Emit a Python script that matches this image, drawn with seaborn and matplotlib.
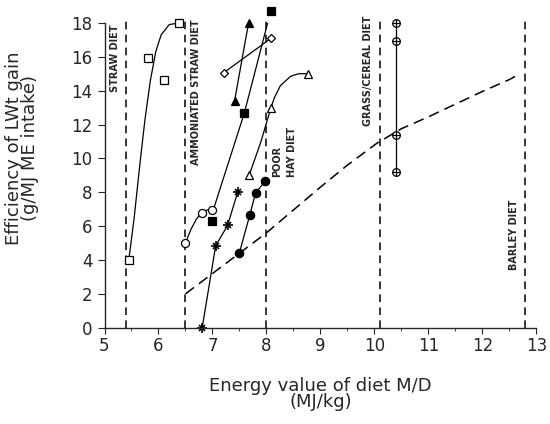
import numpy as np
import pandas as pd
from matplotlib import pyplot as plt
from matplotlib.ticker import MultipleLocator
import seaborn as sns

# values
straw_x = [5.45, 5.80, 6.11, 6.38]
straw_y = [4.0, 15.9, 14.6, 18.0]
straw_fit_x = [5.45, 5.55, 5.65, 5.75, 5.85, 5.95, 6.05, 6.2, 6.38]
straw_fit_y = [4.0, 6.5, 9.5, 12.3, 14.6, 16.3, 17.3, 17.9, 18.0]

ocirc_x = [6.5, 6.8, 7.0]
ocirc_y = [5.0, 6.8, 6.95]
ocirc_fit_x = [6.5, 6.6, 6.7, 6.8, 6.9, 7.0]
ocirc_fit_y = [5.0, 5.8, 6.4, 6.8, 6.95, 6.95]

fsq_x = [7.0, 7.59, 8.08]
fsq_y = [6.3, 12.67, 18.7]
fsq_line_x = [7.02, 7.59, 8.08]
fsq_line_y = [7.0, 12.67, 18.7]

ftri_x = [7.41, 7.67]
ftri_y = [13.4, 18.0]

odia_x = [7.21, 8.09]
odia_y = [15.06, 17.1]

star_x = [6.81, 7.06, 7.28, 7.47]
star_y = [0.0, 4.84, 6.04, 8.03]

fcirc_x = [7.50, 7.69, 7.80, 7.98]
fcirc_y = [4.43, 6.63, 7.97, 8.66]

otri_x = [7.68, 8.08, 8.77]
otri_y = [9.0, 12.95, 15.0]
otri_fit_x = [7.68, 7.9, 8.08, 8.15, 8.26, 8.45, 8.6, 8.77]
otri_fit_y = [9.0, 11.0, 12.95, 13.6, 14.3, 14.85, 15.0, 15.0]

grass_x = [10.4, 10.4, 10.4, 10.4]
grass_y = [18.0, 16.94, 11.4, 9.2]

pot_x = [6.5, 7.0, 7.5, 8.0, 8.5, 9.0, 9.5, 10.05, 10.5, 11.0, 11.5, 12.0, 12.5, 12.7]
pot_y = [2.0, 3.2, 4.4, 5.6, 6.95, 8.3, 9.6, 10.9, 11.75, 12.45, 13.2, 13.95, 14.65, 15.0]

diet_bounds = [5.4, 6.5, 8.0, 10.1, 12.8]

sns.set_style('ticks')
plt.rcParams['font.family'] = ['DejaVu Sans']

fig = plt.figure(figsize=(5.5, 4.24), dpi=100)
ax = fig.add_axes([0.19, 0.227, 0.785, 0.719])

# diet boundaries
for xb in diet_bounds:
    ax.plot([xb, xb], [0, 18.25], color='black', lw=1.1, ls=(0, (5, 3.5)), clip_on=False)

# potential curve
sns.lineplot(x=pot_x, y=pot_y, ax=ax, color='black', lw=1.1, ls=(0, (7, 4)),
             sort=False, estimator=None)

def line(x, y):
    sns.lineplot(x=x, y=y, ax=ax, color='black', lw=0.9, sort=False, estimator=None)

def pts(x, y, marker, face, size=5.5, mew=0.9):
    sns.lineplot(x=x, y=y, ax=ax, color='black', lw=0, marker=marker, markersize=size,
                 markerfacecolor=face, markeredgecolor='black', markeredgewidth=mew,
                 sort=False, estimator=None, clip_on=False)

line(straw_fit_x, straw_fit_y)
line(ocirc_fit_x, ocirc_fit_y)
line(fsq_line_x, fsq_line_y)
line(ftri_x, ftri_y)
line(odia_x, odia_y)
line(star_x, star_y)
line(fcirc_x, fcirc_y)
line(otri_fit_x, otri_fit_y)
line(grass_x, grass_y)

pts(straw_x, straw_y, 's', 'white', 5.5)
pts(ocirc_x, ocirc_y, 'o', 'white', 5.8)
pts(fsq_x, fsq_y, 's', 'black', 5.5)
pts(ftri_x, ftri_y, '^', 'black', 6)
pts(odia_x, odia_y, 'D', 'white', 4.5)
pts(star_x, star_y, '+', 'black', 7, 1.2)
pts(star_x, star_y, 'x', 'black', 5, 1.2)
pts(fcirc_x, fcirc_y, 'o', 'black', 6)
pts(otri_x, otri_y, '^', 'white', 6)
pts(grass_x, grass_y, 'o', 'white', 5.5)
pts(grass_x, grass_y, '+', 'black', 5.5)

# diet labels
lab = dict(rotation=90, fontsize=7, fontweight='bold', ha='center',
           family=['Liberation Sans Narrow', 'DejaVu Sans'])
ax.text(5.2, 15.9, 'STRAW DIET', va='center', **lab)
ax.text(6.69, 13.9, 'AMMONIATED STRAW DIET', va='center', **lab)
ax.text(8.2, 8.9, 'POOR', va='bottom', **lab)
ax.text(8.48, 8.9, 'HAY DIET', va='bottom', **lab)
ax.text(9.89, 15.2, 'GRASS/CEREAL DIET', va='center', **lab)
ax.text(12.59, 5.5, 'BARLEY DIET', va='center', **lab)

ax.set_xlim(5, 13)
ax.set_ylim(0, 18)
ax.set_xticks(range(5, 14))
ax.xaxis.set_minor_locator(MultipleLocator(0.5))
ax.set_yticks(range(0, 19, 2))
ax.tick_params(axis='x', which='both', direction='out', labelsize=12, pad=3)
ax.tick_params(axis='x', which='major', length=4)
ax.tick_params(axis='x', which='minor', length=2.5)
ax.tick_params(axis='y', direction='out', length=5, labelsize=12)
for s in ['left', 'bottom']:
    ax.spines[s].set_linewidth(1.0)
sns.despine(ax=ax)

fig.text(0.04, 0.65, 'Efficiency of LWt gain\n(g/MJ ME intake)', rotation=90,
         ha='center', va='center', fontsize=13, linespacing=0.9)
fig.text(0.583, 0.071, 'Energy value of diet M/D\n(MJ/kg)', ha='center', va='center',
         fontsize=13, linespacing=0.9)

fig.savefig('out.png', dpi=100)
